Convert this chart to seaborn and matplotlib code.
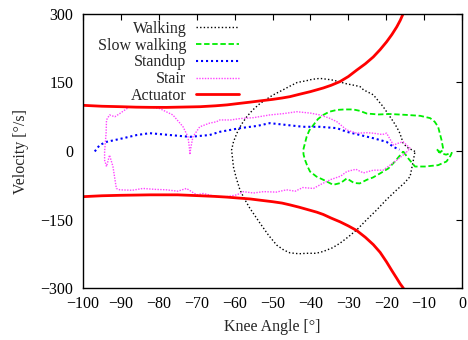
import matplotlib
matplotlib.use("Agg")
import matplotlib.pyplot as plt
import seaborn as sns
import pandas as pd
from matplotlib.lines import Line2D

# ---------------- data ----------------
walk_x = [-12.4, -14.5, -15.5, -16.4, -17.2, -18.1, -19.4, -20.8, -23.4, -26.0, -26.9, -28.5,
          -30.4, -33.9, -35.5, -37.5, -39.5, -41.0, -43.5, -45.4,
          -47.2, -50.0, -53.3, -55.2, -56.8, -58.3, -59.4, -60.3, -60.8, -60.6, -60.3, -59.6,
          -58.6, -57.4, -56.0, -53.3, -51.0, -48.9, -47.0,
          -45.4, -43.0, -41.0, -38.5, -36.6, -34.2, -32.2, -30.0, -27.8, -25.1, -22.5, -20.0,
          -17.2, -15.2, -13.7, -12.9, -12.4]
walk_y = [-1, 8, 17, 39, 52, 64, 80, 97, 123, 134, 141, 144,
          147, 155, 157, 159, 157, 154, 150, 142,
          134, 122, 104, 90, 75, 57, 39, 20, 2, -12, -35, -58,
          -85, -105, -125, -158, -185, -206, -217,
          -223, -225, -224, -224, -220, -212, -202, -188, -173, -150, -129, -107,
          -85, -70, -56, -23, -1]

slow_x = [-15.5, -14.2, -12.4, -9.8, -6.3, -4.1, -3.0, -2.7, -4.2, -5.5, -6.7, -6.0, -4.9,
          -5.4, -6.3, -7.2, -8.4, -11.0, -14.6, -19.0, -22.0, -25.1, -27.0, -28.7, -31.0, -33.0,
          -35.0, -36.6, -38.0, -39.2, -40.3, -41.0, -41.9, -41.8, -41.4, -40.8, -40.1, -38.4,
          -36.6, -34.0, -32.0, -30.4, -28.5, -27.0, -25.1, -23.5, -21.6, -19.4, -17.7, -15.5]
slow_y = [-1, -16, -34, -34, -31, -23, -10, -4, -8, -5, 4, -3, 2,
          24, 53, 64, 72, 77, 79, 81, 80, 82, 88, 91, 91, 90,
          86, 79, 70, 57, 45, 31, 2, -8, -20, -33, -45, -56,
          -63, -74, -70, -60, -70, -71, -63, -58, -49, -38, -23, -1]

stand_x = [-96.9, -95.6, -93.8, -89.4, -85.8, -82.4, -77.1, -71.8, -66.6, -63.9, -58.6,
           -54.0, -50.7, -46.3, -41.9, -37.5, -33.0, -30.4, -26.9, -23.4, -19.9, -18.1, -16.5]
stand_y = [-1, 13, 20, 28, 35, 39, 35, 31, 35, 42, 50,
           55, 61, 57, 53, 53, 50, 42, 35, 28, 20, 9, 3]

stair_x = [-14.8, -16.0, -18.0, -20.8, -23.4, -26.0, -28.0, -30.4, -32.0, -34.8, -37.0, -39.2,
           -42.0, -44.0, -46.3, -49.0, -52.4, -55.0, -57.7, -59.4, -62.0, -64.8, -68.3, -70.0,
           -72.7, -75.0, -78.0, -81.0, -84.2, -87.0, -90.3, -91.2, -92.1, -93.0, -93.5, -93.8,
           -94.3, -94.3, -93.9, -93.8, -93.0, -91.6, -90.3, -87.7, -85.0, -82.0, -79.8, -76.3,
           -73.6, -72.3, -71.9, -71.8, -71.6, -71.0, -69.2, -66.6, -64.8, -63.9, -61.0, -58.6,
           -55.0, -50.7, -47.0, -43.6, -40.0, -37.5, -35.0, -33.0, -30.4, -27.8, -25.0, -23.4,
           -21.0, -19.9, -18.1, -16.5, -15.5, -13.7, -14.8]
stair_y = [-4, -12, -25, -42, -42, -48, -40, -45, -55, -63, -72, -82,
           -80, -88, -85, -90, -89, -92, -89, -96, -100, -100, -93, -96,
           -82, -88, -85, -84, -82, -86, -85, -82, -34, -9, -25, -34,
           -20, -1, 40, 68, 79, 75, 82, 97, 97, 96, 93, 79,
           53, 31, 5, -8, 5, 31, 53, 61, 64, 68, 68, 71,
           73, 79, 82, 86, 83, 79, 72, 64, 46, 39, 40, 39,
           36, 39, 13, 18, 20, 6, -4]

act_x = [-102, -100, -95, -90, -86, -82.3, -78, -75, -72, -69.1, -65, -62, -59, -55.9, -53,
         -50, -47.5, -45.4, -43, -40, -38.3, -36.6, -34.5, -32.2, -30, -27.8, -25.5, -23.4,
         -21.6, -19.9, -18.5, -17.2, -16.3, -15.5, -14.8]
act_up = [101, 100, 98, 97, 96, 95.6, 95.5, 96, 96.5, 97, 99, 101, 104, 107, 110,
          113, 116, 119, 124, 130, 134, 138, 144, 152, 163, 177, 191, 206,
          222, 239, 255, 272, 286, 301, 320]
act_lo = [-101, -100, -98, -97, -96.5, -96, -96, -96, -97, -98, -99.5, -101, -103, -105, -108,
          -111, -114, -118, -123, -130, -134, -139, -147, -155, -164, -174, -189, -205,
          -222, -243, -262, -279, -291, -300, -320]

labels = ["Walking", "Slow walking", "Standup", "Stair", "Actuator"]
x_ticks = list(range(-100, 1, 10))
y_ticks = [-300, -150, 0, 150, 300]

# ---------------- plotting ----------------
sns.set_style("white")
plt.rcParams["font.family"] = ["Liberation Serif", "DejaVu Serif"]
plt.rcParams["font.size"] = 11.5

fig = plt.figure(figsize=(4.68, 3.40), dpi=100)
ax = fig.add_axes([83 / 468, 1 - 288 / 340, (462 - 83) / 468, (288 - 14) / 340])

styles = {
    "Walking": dict(color="black", lw=1.0, ls=(0, (1, 1.6))),
    "Slow walking": dict(color="#00ee00", lw=1.3, ls=(0, (3, 1.5))),
    "Standup": dict(color="#0000ff", lw=1.5, ls=(0, (1, 1.4))),
    "Stair": dict(color="#ff44ff", lw=1.0, ls=(0, (1, 1.0))),
    "Actuator": dict(color="#ff0000", lw=2.0, ls="-"),
}

series = [
    ("Walking", walk_x, walk_y),
    ("Slow walking", slow_x, slow_y),
    ("Standup", stand_x, stand_y),
    ("Stair", stair_x, stair_y),
    ("Actuator", act_x, act_up),
    ("Actuator", act_x, act_lo),
]
for name, xs, ys in series:
    df = pd.DataFrame({"x": xs, "y": ys})
    st = styles[name]
    sns.lineplot(data=df, x="x", y="y", sort=False, estimator=None, ax=ax,
                 color=st["color"], linewidth=st["lw"], linestyle=st["ls"])

ax.set_xlim(-100, 0)
ax.set_ylim(-300, 300)
ax.set_xticks(x_ticks)
ax.set_yticks(y_ticks)
ax.tick_params(direction="in", top=True, right=True, length=4, width=0.8,
               colors="black", labelsize=11.5)
ax.tick_params(axis="x", pad=6)
ax.tick_params(axis="y", pad=7)
for s in ax.spines.values():
    s.set_color("black")
    s.set_linewidth(1.0)
ax.set_xlabel("Knee Angle [°]", fontsize=11.5, labelpad=5)
ax.set_ylabel("Velocity [°/s]", fontsize=11.5, labelpad=8)

handles = [Line2D([], [], color=styles[n]["color"], lw=styles[n]["lw"],
                  ls=styles[n]["ls"]) for n in labels]
ax.legend(handles, labels, loc="upper left", bbox_to_anchor=(0.04, 0.975),
          frameon=False, markerfirst=False, borderpad=0, borderaxespad=0,
          handlelength=2.7, handletextpad=0.6, labelspacing=0.05, fontsize=11.5)

fig.savefig("out.png", dpi=100)
